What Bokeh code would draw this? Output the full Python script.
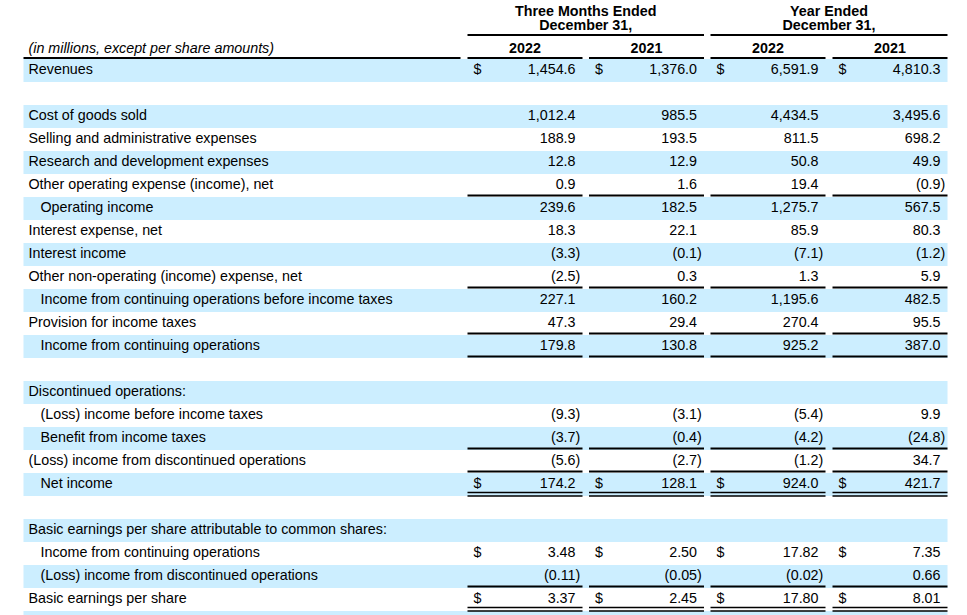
from bokeh.plotting import figure
from bokeh.models import Range1d
from bokeh.core.properties import value
from bokeh.embed import file_html
from bokeh.resources import INLINE

# ---------------- data ----------------
labels = [
    "Revenues", "",
    "Cost of goods sold",
    "Selling and administrative expenses",
    "Research and development expenses",
    "Other operating expense (income), net",
    "Operating income",
    "Interest expense, net",
    "Interest income",
    "Other non-operating (income) expense, net",
    "Income from continuing operations before income taxes",
    "Provision for income taxes",
    "Income from continuing operations",
    "",
    "Discontinued operations:",
    "(Loss) income before income taxes",
    "Benefit from income taxes",
    "(Loss) income from discontinued operations",
    "Net income",
    "",
    "Basic earnings per share attributable to common shares:",
    "Income from continuing operations",
    "(Loss) income from discontinued operations",
    "Basic earnings per share",
]
indented = [6, 10, 12, 15, 16, 18, 21, 22]
dollar_rows = [0, 18, 21, 23]
eps_rows = [21, 22, 23]
single_under = [5, 9, 11, 12, 16, 17, 22]
double_under = [18, 23]

q4_2022 = [1454.6, None, 1012.4, 188.9, 12.8, 0.9, 239.6, 18.3, -3.3, -2.5, 227.1, 47.3, 179.8,
           None, None, -9.3, -3.7, -5.6, 174.2, None, None, 3.48, -0.11, 3.37]
q4_2021 = [1376.0, None, 985.5, 193.5, 12.9, 1.6, 182.5, 22.1, -0.1, 0.3, 160.2, 29.4, 130.8,
           None, None, -3.1, -0.4, -2.7, 128.1, None, None, 2.50, -0.05, 2.45]
fy_2022 = [6591.9, None, 4434.5, 811.5, 50.8, 19.4, 1275.7, 85.9, -7.1, 1.3, 1195.6, 270.4, 925.2,
           None, None, -5.4, -4.2, -1.2, 924.0, None, None, 17.82, -0.02, 17.80]
fy_2021 = [4810.3, None, 3495.6, 698.2, 49.9, -0.9, 567.5, 80.3, -1.2, 5.9, 482.5, 95.5, 387.0,
           None, None, 9.9, -24.8, 34.7, 421.7, None, None, 7.35, 0.66, 8.01]
columns = [q4_2022, q4_2021, fy_2022, fy_2021]
year_labels = ["2022", "2021", "2022", "2021"]
group_labels = [("Three Months Ended", "December 31,"), ("Year Ended", "December 31,")]
units_note = "(in millions, except per share amounts)"

# ---------------- layout ----------------
W, H = 967, 615
FONT = "Liberation Sans"
FS = "14.3px"
STRIPE = "#CCEEFF"
ROW0 = 70.0
PITCH = 23.0
TXT_DY = -1.5
LEFT = 23
RIGHT = 947
col_left = [467, 588.5, 710, 832]
col_w = 115
PAREN = 4.8

p = figure(width=W, height=H, x_range=Range1d(0, W), y_range=Range1d(H, 0),
           x_axis_type=None, y_axis_type=None, output_backend="svg",
           toolbar_location=None, min_border=0)
p.grid.visible = False
p.outline_line_color = None
p.background_fill_color = "white"
p.border_fill_color = "white"

def yc(i):
    return ROW0 + PITCH * i

# stripes
n_rows = len(labels) + 1
st = [i for i in range(n_rows) if i % 2 == 0]
p.quad(left=[LEFT] * len(st), right=[RIGHT] * len(st),
       top=[yc(i) - PITCH / 2 for i in st], bottom=[yc(i) + PITCH / 2 for i in st],
       fill_color=STRIPE, line_color=None)

# row labels
lx, ly, lt = [], [], []
for i, lab in enumerate(labels):
    if lab:
        lx.append(40 if i in indented else 28)
        ly.append(yc(i) + TXT_DY)
        lt.append(lab)
p.text(x=lx, y=ly, text=lt, text_font=value(FONT), text_font_size=FS,
       text_align="left", text_baseline="middle", text_color="#000000")

# values
def fmt(v, dec):
    s = f"{abs(v):,.{dec}f}"
    return f"({s})" if v < 0 else s

vx, vy, vt = [], [], []
dx, dy = [], []
for c, vals in enumerate(columns):
    r = col_left[c] + col_w - 7
    for i, v in enumerate(vals):
        if v is None:
            continue
        dec = 2 if i in eps_rows else 1
        vt.append(fmt(v, dec))
        vx.append(r + (PAREN if v < 0 else 0))
        vy.append(yc(i) + TXT_DY)
        if i in dollar_rows:
            dx.append(col_left[c] + 6)
            dy.append(yc(i) + TXT_DY)
p.text(x=vx, y=vy, text=vt, text_font=value(FONT), text_font_size=FS,
       text_align="right", text_baseline="middle", text_color="#000000")
p.text(x=dx, y=dy, text=["$"] * len(dx), text_font=value(FONT), text_font_size=FS,
       text_align="left", text_baseline="middle", text_color="#000000")

# underlines
xs, ys = [], []
for i in single_under:
    yb = yc(i) + PITCH / 2 - 1.5
    for c in range(4):
        xs.append([col_left[c], col_left[c] + col_w])
        ys.append([yb, yb])
p.multi_line(xs=xs, ys=ys, line_color="#000000", line_width=1.8)
xs, ys = [], []
for i in double_under:
    yb = yc(i) + PITCH / 2
    for off in (-3.5, 0.0):
        for c in range(4):
            xs.append([col_left[c], col_left[c] + col_w])
            ys.append([yb + off, yb + off])
p.multi_line(xs=xs, ys=ys, line_color="#000000", line_width=1.3)

# header
hx, hy, ht = [], [], []
groups = [(col_left[0], col_left[1] + col_w), (col_left[2], col_left[3] + col_w)]
for (a, b), (t1, t2) in zip(groups, group_labels):
    hx += [(a + b) / 2, (a + b) / 2]
    hy += [10.0, 24.0]
    ht += [t1, t2]
for c, yl in enumerate(year_labels):
    hx.append(col_left[c] + col_w / 2)
    hy.append(47.0)
    ht.append(yl)
p.text(x=hx, y=hy, text=ht, text_font=value(FONT), text_font_size=FS, text_font_style="bold",
       text_align="center", text_baseline="middle", text_color="#000000")
p.text(x=[28], y=[47.0], text=[units_note], text_font=value(FONT), text_font_size=FS,
       text_font_style="italic", text_align="left", text_baseline="middle", text_color="#000000")

hlx = [[a, b] for a, b in groups] + [[col_left[c], col_left[c] + col_w] for c in range(4)] + [[LEFT, 460]]
hly = [[34.5, 34.5]] * 2 + [[57.5, 57.5]] * 5
p.multi_line(xs=hlx, ys=hly, line_color="#000000", line_width=2)

open("out.html", "w").write(file_html(p, INLINE))
